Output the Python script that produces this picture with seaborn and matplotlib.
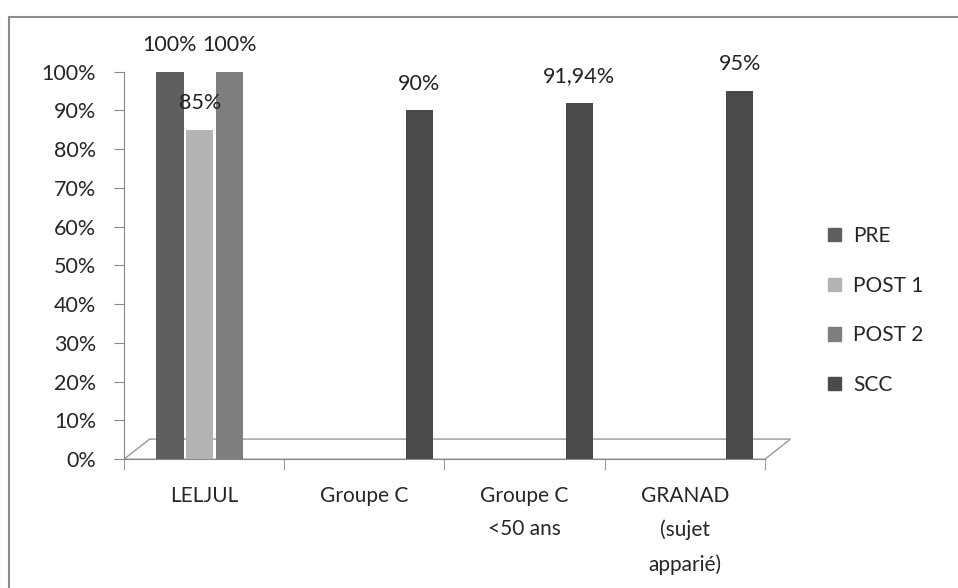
import pandas as pd
import numpy as np
import seaborn as sns
import matplotlib.pyplot as plt
from matplotlib.patches import Rectangle, Polygon

# data
groups = ['LELJUL', 'Groupe C', 'Groupe C\n<50 ans', 'GRANAD\n(sujet\napparié)']
series = ['PRE', 'POST 1', 'POST 2', 'SCC']
bar_group = ['LELJUL', 'LELJUL', 'LELJUL', 'Groupe C', 'Groupe C\n<50 ans', 'GRANAD\n(sujet\napparié)']
bar_series = ['PRE', 'POST 1', 'POST 2', 'SCC', 'SCC', 'SCC']
bar_value = [100, 85, 100, 90, 91.94, 95]
bar_text = ['100%', '85%', '100%', '90%', '91,94%', '95%']
colors = ['#5f5f5f', '#b4b4b4', '#7e7e7e', '#4a4a4a']

df = pd.DataFrame({'group': bar_group, 'series': bar_series, 'value': bar_value, 'text': bar_text})

sns.set_style('white')
plt.rcParams['font.family'] = ['Lato', 'DejaVu Sans']
fs = 15.5

fig = plt.figure(figsize=(9.58, 5.88), dpi=100)
ax = fig.add_axes([0.1294, 0.219, 0.669, 0.659])

sns.barplot(data=df, x='group', y='value', hue='series', order=groups,
            hue_order=series, palette=colors, width=0.74, gap=0.08,
            dodge=True, legend=False, ax=ax, saturation=1, edgecolor='none')

# nudge bars right a little (3D depth look in the original)
for p in ax.patches:
    p.set_x(p.get_x() + 0.065)

# value labels
for cont, s in zip(ax.containers, series):
    txt = df.loc[df['series'] == s, 'text'].tolist()
    ax.bar_label(cont, labels=txt, padding=12, fontsize=fs, color='#222222')

ax.set_ylim(0, 100)
ax.set_xlim(-0.5, len(groups) - 0.5)
ax.set_yticks(np.arange(0, 101, 10))
ax.set_yticklabels([f'{v}%' for v in range(0, 101, 10)], fontsize=fs)
ax.set_xticks(range(len(groups)))
ax.set_xticklabels(groups, fontsize=fs - 0.5, linespacing=1.85)
ax.set_xticks(np.arange(-0.5, len(groups), 1), minor=True)
ax.tick_params(axis='x', which='major', length=0, pad=19)
ax.tick_params(axis='x', which='minor', length=8, color='#888888', direction='out', bottom=True)
ax.tick_params(axis='y', length=7, color='#888888', direction='out', left=True, pad=13)
ax.set_xlabel('')
ax.set_ylabel('')
sns.despine(ax=ax, top=True, right=True)
for sp in ['left', 'bottom']:
    ax.spines[sp].set_color('#888888')

# 3D floor look
floor = Polygon([[0, 0], [0.04, 0.052], [1.04, 0.052], [1.0, 0]], closed=True,
                transform=ax.transAxes, fill=False, edgecolor='#999999', lw=1, clip_on=False, zorder=0)
ax.add_patch(floor)

# legend
handles = [Rectangle((0, 0), 1, 1, color=c) for c in colors]
fig.legend(handles, series, loc='center left', bbox_to_anchor=(0.845, 0.472),
           frameon=False, fontsize=fs - 0.5, handlelength=0.6, handleheight=0.6,
           labelspacing=1.42, handletextpad=0.6)

# chart border (right and bottom edges fall outside the picture)
fig.patches.append(Rectangle((9 / 958, -0.05), 1.1, 1 - 17 / 588 + 0.05, transform=fig.transFigure,
                             fill=False, edgecolor='#8c8c8c', lw=1.5))

fig.savefig('out.png', dpi=100)
